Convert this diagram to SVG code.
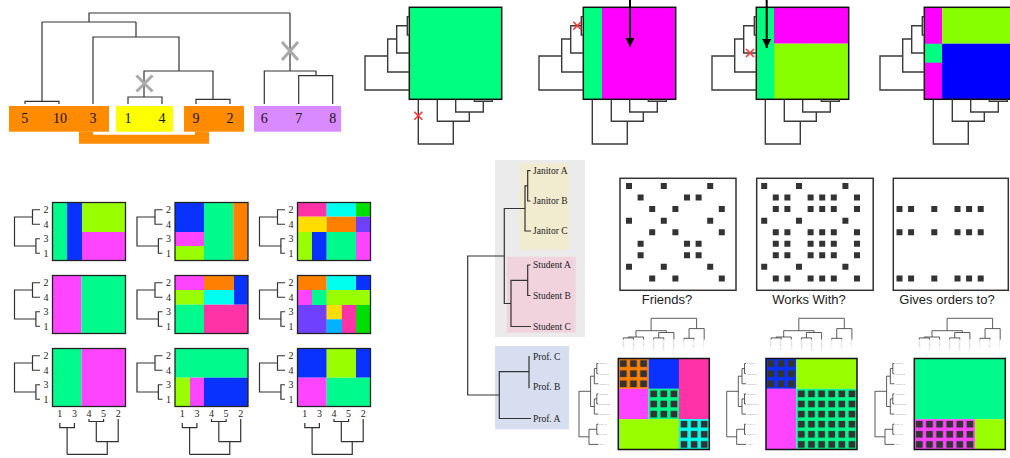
<svg xmlns="http://www.w3.org/2000/svg" width="1010" height="458" viewBox="0 0 1010 458">
<defs>
<style>
.ln{fill:none;stroke:#333;stroke-width:1.2}
.ln2{fill:none;stroke:#3a3a3a;stroke-width:1.4}
.fr{fill:none;stroke:#111;stroke-width:1.5}
.fr2{fill:none;stroke:#222;stroke-width:1.3}
.num{font-family:"Liberation Serif","Times New Roman",serif;font-size:14px;fill:#111;text-anchor:middle}
.sm{font-family:"Liberation Serif","Times New Roman",serif;font-size:10px;fill:#222;text-anchor:middle}
.nm{font-family:"Liberation Serif","Times New Roman",serif;font-size:9.5px;fill:#222}
.cap{font-family:"Liberation Sans",Arial,sans-serif;font-size:13px;fill:#222;text-anchor:middle}
.tiny{font-family:"Liberation Sans",Arial,sans-serif;font-size:2.4px;fill:#999}
.gx{fill:none;stroke:#aaa;stroke-width:3}
.rx{fill:none;stroke:#f33;stroke-width:1.6}
.ar{stroke:#000;stroke-width:2;marker-end:url(#ah)}
.dt{fill:#333}
.st{fill:none;stroke:#333;stroke-width:0.8}
.G{fill:#00ff80}.M{fill:#ff00ff}.L{fill:#88ff00}.B{fill:#0000ff}
.g{fill:#00fa8c}.b{fill:#0a32ff}.l{fill:#99ff00}.m{fill:#ff44ff}.o{fill:#ff8000}.p{fill:#ff33a6}.c{fill:#00ffee}.v{fill:#7040ff}.y{fill:#ffdd00}.lb{fill:#00b2ff}.bg{fill:#00e000}
</style>
<marker id="ah" viewBox="0 0 10 10" refX="10" refY="5" markerUnits="userSpaceOnUse" markerWidth="9" markerHeight="9" orient="auto"><path d="M0,0L10,5L0,10z" fill="#000"/></marker>
<pattern id="dots" patternUnits="userSpaceOnUse" width="10.111" height="10.111"><rect x="1.7" y="1.7" width="6.7" height="6.7" fill="#333"/></pattern>
<path id="tt" class="ln2" d="M0,16.7H-2V35H0M-2,25.8H-12.6V53H0M-12.6,39H-21.6V72H0M-21.6,56H-44.3V90H0M65,99.3V101.3H83V99.3M74,101.3V112H46.4V99.3M60,112V121.3H28V99.3M44,121.3V144H9V99.3"/>
<path id="gt" class="ln" d="M-12.5,7.25H-20V21.75H-12.5M-12.5,36.25H-16.6V50.75H-12.5M-20,14.5H-38V43.5H-16.6"/>
<path id="gb" class="ln" d="M7.3,74.5V79.2H21.9V74.5M14.6,79.2V105.8M36.5,70.5V73H51.1V70.5M43.8,73V93.2M65.7,70.5V93.2H43.8M54.75,93.2V105.8H14.6"/>
<path id="ct" class="st" d="M32.8,-27.8V-40.2H78.3V-29.9M17.7,-21.5V-27.8H48V-26M10.1,-20.6V-21.5H25.28V-19M5.06,-19V-20.6H15.17V-19M40.4,-20.6V-26H55.6V-19M35.39,-19V-20.6H45.5V-19M70.75,-20.2V-29.9H85.9V-19M65.7,-19V-20.2H75.8V-19"/>
<path id="rt" class="st" d="M-27.7,32.8H-39.3V78.3H-29.3M-24,17.7H-27.7V48H-24M-21.5,10.1H-24V25.28H-20M-20,5.06H-21.5V15.17H-20M-21.5,40.4H-24V55.6H-20M-20,35.39H-21.5V45.5H-20M-21.5,70.75H-29.3V85.9H-20M-20,65.7H-21.5V75.8H-20"/>
</defs>
<rect width="1010" height="458" fill="#fff"/>

<!-- top-left dendrogram -->
<g id="tl-groups">
<rect x="9" y="106" width="100" height="25.7" fill="#ff8c00"/>
<rect x="116" y="106" width="57" height="25.7" fill="#ffff00"/>
<rect x="184" y="106" width="60" height="25.7" fill="#ff8c00"/>
<rect x="254" y="106" width="87" height="25.7" fill="#da8aff"/>
<path d="M79,131.5H93V134.7H195V131.5H209V143.7H79Z" fill="#ff8c00"/>
</g>
<g id="tl-tree">
<path class="ln" d="M25,104V101.3H59V104M42,101.3V22M42,22H136M89,22V13H290M136,22V37M93,104V37H179V71M144,97V71H213V99.3M128,104V97H162V104M196,104V99.3H230V104M290,13V71M264.3,104V71H316V75.7M298.7,104V75.7H332.7V104"/>
<path class="gx" d="M136.5,75.5L152.5,91.5M152.5,75.5L136.5,91.5M282,42L298,60M298,42L282,60"/>
</g>
<g id="tl-labels">
<text class="num" x="24.7" y="122.5">5</text>
<text class="num" x="60" y="122.5">10</text>
<text class="num" x="93" y="122.5">3</text>
<text class="num" x="128" y="122.5">1</text>
<text class="num" x="162" y="122.5">4</text>
<text class="num" x="196" y="122.5">9</text>
<text class="num" x="230" y="122.5">2</text>
<text class="num" x="264.3" y="122.5">6</text>
<text class="num" x="298.7" y="122.5">7</text>
<text class="num" x="332.7" y="122.5">8</text>
</g>

<!-- top matrices -->
<g id="top-m1" transform="translate(409.3,0)">
<rect class="G" y="7.3" width="92.4" height="92"/>
<rect class="fr" y="7.3" width="92.4" height="92"/>
<use href="#tt"/>
<path class="rx" d="M5,111.7L13,119.7M13,111.7L5,119.7"/>
</g>
<g id="top-m2" transform="translate(583.3,0)">
<rect class="G" y="7.3" width="18.7" height="92"/>
<rect class="M" x="18.7" y="7.3" width="73.7" height="92"/>
<rect class="fr" y="7.3" width="92.4" height="92"/>
<use href="#tt"/>
<path class="rx" d="M-10,21.8L-2,29.8M-2,21.8L-10,29.8"/>
<line class="ar" x1="46.7" y1="0" x2="46.7" y2="47"/>
</g>
<g id="top-m3" transform="translate(756.3,0)">
<rect class="G" y="7.3" width="17.7" height="92"/>
<rect class="M" x="17.7" y="7.3" width="74.7" height="36.4"/>
<rect class="L" x="17.7" y="43.7" width="74.7" height="55.6"/>
<rect class="fr" y="7.3" width="92.4" height="92"/>
<use href="#tt"/>
<path class="rx" d="M-10.3,49L-2.3,57M-2.3,49L-10.3,57"/>
<line class="ar" x1="10.4" y1="0" x2="10.4" y2="48"/>
</g>
<g id="top-m4" transform="translate(924.3,0)">
<rect class="M" y="7.3" width="17.7" height="92"/>
<rect class="G" y="43.7" width="17.7" height="19"/>
<rect class="L" x="17.7" y="7.3" width="74.7" height="36.4"/>
<rect class="B" x="17.7" y="43.7" width="74.7" height="55.6"/>
<rect class="fr" y="7.3" width="92.4" height="92"/>
<use href="#tt"/>
</g>

<!-- bottom-left grid -->
<g id="grid-a1" transform="translate(52.5,202.5)">
<rect class="g" width="14.5" height="58"/><rect class="b" x="14.5" width="15" height="58"/><rect class="l" x="29.5" width="43.5" height="29.5"/><rect class="m" x="29.5" y="29.5" width="43.5" height="28.5"/>
<rect class="fr2" width="73" height="58"/><use href="#gt"/>
<text class="sm" x="-6.6" y="10.8">2</text><text class="sm" x="-6.6" y="25.3">4</text><text class="sm" x="-6.6" y="39.8">3</text><text class="sm" x="-6.6" y="54.3">1</text>
</g>
<g id="grid-b1" transform="translate(175,202.5)">
<rect class="b" width="29" height="29.5"/><rect class="m" y="29.5" width="29" height="14"/><rect class="l" y="43.5" width="29" height="14.5"/><rect class="g" x="29" width="29.3" height="58"/><rect class="o" x="58.3" width="14.7" height="58"/>
<rect class="fr2" width="73" height="58"/><use href="#gt"/>
<text class="sm" x="-6.6" y="10.8">2</text><text class="sm" x="-6.6" y="25.3">4</text><text class="sm" x="-6.6" y="39.8">3</text><text class="sm" x="-6.6" y="54.3">1</text>
</g>
<g id="grid-c1" transform="translate(297.5,202.5)">
<rect class="p" width="29.2" height="14.2"/><rect class="c" x="29.2" width="29.3" height="14.2"/><rect class="bg" x="58.5" width="14.5" height="14.2"/>
<rect class="y" y="14.2" width="29.2" height="15.3"/><rect class="o" x="29.2" y="14.2" width="29.3" height="15.3"/><rect class="v" x="58.5" y="14.2" width="14.5" height="15.3"/>
<rect class="l" y="29.5" width="14.5" height="28.5"/><rect class="b" x="14.5" y="29.5" width="14.7" height="28.5"/><rect class="g" x="29.2" y="29.5" width="29.3" height="28.5"/><rect class="m" x="58.5" y="29.5" width="14.5" height="28.5"/>
<rect class="fr2" width="73" height="58"/><use href="#gt"/>
<text class="sm" x="-6.6" y="10.8">2</text><text class="sm" x="-6.6" y="25.3">4</text><text class="sm" x="-6.6" y="39.8">3</text><text class="sm" x="-6.6" y="54.3">1</text>
</g>
<g id="grid-a2" transform="translate(52.5,275.5)">
<rect class="m" width="29" height="58"/><rect class="g" x="29" width="44" height="58"/>
<rect class="fr2" width="73" height="58"/><use href="#gt"/>
<text class="sm" x="-6.6" y="10.8">2</text><text class="sm" x="-6.6" y="25.3">4</text><text class="sm" x="-6.6" y="39.8">3</text><text class="sm" x="-6.6" y="54.3">1</text>
</g>
<g id="grid-b2" transform="translate(175,275.5)">
<rect class="m" width="29" height="14.5"/><rect class="o" x="29" width="30" height="14.5"/><rect class="b" x="59" width="14" height="29.2"/>
<rect class="l" y="14.5" width="29" height="14.7"/><rect class="c" x="29" y="14.5" width="30" height="14.7"/>
<rect class="g" y="29.2" width="29" height="28.8"/><rect class="p" x="29" y="29.2" width="44" height="28.8"/>
<rect class="fr2" width="73" height="58"/><use href="#gt"/>
<text class="sm" x="-6.6" y="10.8">2</text><text class="sm" x="-6.6" y="25.3">4</text><text class="sm" x="-6.6" y="39.8">3</text><text class="sm" x="-6.6" y="54.3">1</text>
</g>
<g id="grid-c2" transform="translate(297.5,275.5)">
<rect class="o" width="29.2" height="14.5"/><rect class="c" x="29.2" width="29.3" height="14.5"/><rect class="b" x="58.5" width="14.5" height="14.5"/>
<rect class="m" y="14.5" width="14.5" height="15"/><rect class="g" x="14.5" y="14.5" width="14.7" height="15"/><rect class="l" x="29.2" y="14.5" width="43.8" height="15"/>
<rect class="v" y="29.5" width="29.2" height="28.5"/><rect class="y" x="29.2" y="29.5" width="15.3" height="14.3"/><rect class="lb" x="29.2" y="43.8" width="15.3" height="14.2"/><rect class="p" x="44.5" y="29.5" width="14" height="28.5"/><rect class="bg" x="58.5" y="29.5" width="14.5" height="28.5"/>
<rect class="fr2" width="73" height="58"/><use href="#gt"/>
<text class="sm" x="-6.6" y="10.8">2</text><text class="sm" x="-6.6" y="25.3">4</text><text class="sm" x="-6.6" y="39.8">3</text><text class="sm" x="-6.6" y="54.3">1</text>
</g>
<g id="grid-a3" transform="translate(52.5,348.5)">
<rect class="g" width="29" height="58"/><rect class="m" x="29" width="44" height="58"/>
<rect class="fr2" width="73" height="58"/><use href="#gt"/><use href="#gb"/>
<text class="sm" x="-6.6" y="10.8">2</text><text class="sm" x="-6.6" y="25.3">4</text><text class="sm" x="-6.6" y="39.8">3</text><text class="sm" x="-6.6" y="54.3">1</text>
<text class="sm" x="7.3" y="68.5">1</text><text class="sm" x="21.9" y="68.5">3</text><text class="sm" x="36.5" y="68.5">4</text><text class="sm" x="51.1" y="68.5">5</text><text class="sm" x="65.7" y="68.5">2</text>
</g>
<g id="grid-b3" transform="translate(175,348.5)">
<rect class="g" width="73" height="29.2"/><rect class="l" y="29.2" width="15" height="28.8"/><rect class="m" x="15" y="29.2" width="14" height="28.8"/><rect class="b" x="29" y="29.2" width="44" height="28.8"/>
<rect class="fr2" width="73" height="58"/><use href="#gt"/><use href="#gb"/>
<text class="sm" x="-6.6" y="10.8">2</text><text class="sm" x="-6.6" y="25.3">4</text><text class="sm" x="-6.6" y="39.8">3</text><text class="sm" x="-6.6" y="54.3">1</text>
<text class="sm" x="7.3" y="68.5">1</text><text class="sm" x="21.9" y="68.5">3</text><text class="sm" x="36.5" y="68.5">4</text><text class="sm" x="51.1" y="68.5">5</text><text class="sm" x="65.7" y="68.5">2</text>
</g>
<g id="grid-c3" transform="translate(297.5,348.5)">
<rect class="b" width="29.2" height="29.2"/><rect class="l" x="29.2" width="29.3" height="29.2"/><rect class="b" x="58.5" width="14.5" height="29.2"/><rect class="m" y="29.2" width="29.2" height="28.8"/><rect class="g" x="29.2" y="29.2" width="43.8" height="28.8"/>
<rect class="fr2" width="73" height="58"/><use href="#gt"/><use href="#gb"/>
<text class="sm" x="-6.6" y="10.8">2</text><text class="sm" x="-6.6" y="25.3">4</text><text class="sm" x="-6.6" y="39.8">3</text><text class="sm" x="-6.6" y="54.3">1</text>
<text class="sm" x="7.3" y="68.5">1</text><text class="sm" x="21.9" y="68.5">3</text><text class="sm" x="36.5" y="68.5">4</text><text class="sm" x="51.1" y="68.5">5</text><text class="sm" x="65.7" y="68.5">2</text>
</g>

<!-- middle dendrogram -->
<g id="mid-boxes">
<rect x="495" y="160" width="90" height="177" fill="#ebebeb"/>
<rect x="520" y="163.5" width="49" height="86" fill="#f1ebd0"/>
<rect x="506.7" y="256.7" width="69" height="76" fill="#f1d3de"/>
<rect x="495" y="346" width="74" height="83.3" fill="#d6deef"/>
</g>
<g id="mid-tree">
<path class="ln" d="M530.5,170.7H527.7V201H530.5M527.7,185.9H525V231H531M525,208.5H504.3V303.5H511M530.5,265H527.7V295.5H530.5M527.7,280.3H511V326.5H531M504.3,256H467.7V395H499.3M529,356V388.3M529,371.7H499.3V418.5H531"/>
</g>
<g id="mid-labels">
<text class="nm" x="533" y="173.7">Janitor A</text>
<text class="nm" x="533" y="204">Janitor B</text>
<text class="nm" x="533" y="234">Janitor C</text>
<text class="nm" x="533" y="268">Student A</text>
<text class="nm" x="533" y="298.5">Student B</text>
<text class="nm" x="533" y="329.5">Student C</text>
<text class="nm" x="533" y="360.3">Prof. C</text>
<text class="nm" x="533" y="390.3">Prof. B</text>
<text class="nm" x="533" y="421.5">Prof. A</text>
</g>

<!-- relation matrices -->
<g id="friends">
<rect x="620" y="178.3" width="116" height="112" fill="#fff" stroke="#333" stroke-width="1.5"/>
<path class="dt" transform="translate(620,178.3)" d="M6,4.7h6v6h-6zM40.8,4.7h6v6h-6zM87.2,4.7h6v6h-6zM17.6,16.25h6v6h-6zM64,16.25h6v6h-6zM75.6,16.25h6v6h-6zM29.2,27.8h6v6h-6zM52.4,27.8h6v6h-6zM98.8,27.8h6v6h-6zM6,39.35h6v6h-6zM40.8,39.35h6v6h-6zM87.2,39.35h6v6h-6zM29.2,50.9h6v6h-6zM52.4,50.9h6v6h-6zM98.8,50.9h6v6h-6zM17.6,62.45h6v6h-6zM64,62.45h6v6h-6zM75.6,62.45h6v6h-6zM17.6,74h6v6h-6zM64,74h6v6h-6zM75.6,74h6v6h-6zM6,85.55h6v6h-6zM40.8,85.55h6v6h-6zM87.2,85.55h6v6h-6zM29.2,97.1h6v6h-6zM52.4,97.1h6v6h-6zM98.8,97.1h6v6h-6z"/>
<text class="cap" x="667" y="304">Friends?</text>
</g>
<g id="works">
<rect x="756.7" y="178.3" width="116.5" height="112" fill="#fff" stroke="#333" stroke-width="1.5"/>
<path class="dt" transform="translate(755.2,178.3)" d="M6,4.7h6v6h-6zM40.8,4.7h6v6h-6zM87.2,4.7h6v6h-6zM6,39.35h6v6h-6zM40.8,39.35h6v6h-6zM87.2,39.35h6v6h-6zM6,85.55h6v6h-6zM40.8,85.55h6v6h-6zM87.2,85.55h6v6h-6zM17.6,16.25h6v6h-6zM29.2,16.25h6v6h-6zM52.4,16.25h6v6h-6zM64,16.25h6v6h-6zM75.6,16.25h6v6h-6zM98.8,16.25h6v6h-6zM17.6,27.8h6v6h-6zM29.2,27.8h6v6h-6zM52.4,27.8h6v6h-6zM64,27.8h6v6h-6zM75.6,27.8h6v6h-6zM98.8,27.8h6v6h-6zM17.6,50.9h6v6h-6zM29.2,50.9h6v6h-6zM52.4,50.9h6v6h-6zM64,50.9h6v6h-6zM75.6,50.9h6v6h-6zM98.8,50.9h6v6h-6zM17.6,62.45h6v6h-6zM29.2,62.45h6v6h-6zM52.4,62.45h6v6h-6zM64,62.45h6v6h-6zM75.6,62.45h6v6h-6zM98.8,62.45h6v6h-6zM17.6,74h6v6h-6zM29.2,74h6v6h-6zM52.4,74h6v6h-6zM64,74h6v6h-6zM75.6,74h6v6h-6zM98.8,74h6v6h-6zM17.6,97.1h6v6h-6zM29.2,97.1h6v6h-6zM52.4,97.1h6v6h-6zM64,97.1h6v6h-6zM75.6,97.1h6v6h-6zM98.8,97.1h6v6h-6z"/>
<text class="cap" x="809" y="304">Works With?</text>
</g>
<g id="gives">
<rect x="893.3" y="178.3" width="115" height="112" fill="#fff" stroke="#333" stroke-width="1.5"/>
<path class="dt" transform="translate(890.5,178.3)" d="M6,27.8h6v6h-6zM17.6,27.8h6v6h-6zM40.8,27.8h6v6h-6zM64,27.8h6v6h-6zM75.6,27.8h6v6h-6zM87.2,27.8h6v6h-6zM6,50.9h6v6h-6zM17.6,50.9h6v6h-6zM40.8,50.9h6v6h-6zM64,50.9h6v6h-6zM75.6,50.9h6v6h-6zM87.2,50.9h6v6h-6zM6,97.1h6v6h-6zM17.6,97.1h6v6h-6zM40.8,97.1h6v6h-6zM64,97.1h6v6h-6zM75.6,97.1h6v6h-6zM87.2,97.1h6v6h-6z"/>
<text class="cap" x="947" y="304">Gives orders to?</text>
</g>

<!-- reordered matrices -->
<g id="re-friends" transform="translate(618.3,358.5)">
<rect class="o" width="30.33" height="30.33"/><rect class="b" x="30.33" width="30.34" height="30.33"/><rect class="p" x="60.67" width="30.33" height="60.67"/>
<rect class="m" y="30.33" width="30.33" height="30.34"/><rect class="g" x="30.33" y="30.33" width="30.34" height="30.34"/>
<rect class="l" y="60.67" width="60.67" height="30.33"/><rect class="c" x="60.67" y="60.67" width="30.33" height="30.33"/>
<rect fill="url(#dots)" width="30.33" height="30.33"/><rect fill="url(#dots)" x="30.33" y="30.33" width="30.34" height="30.34"/><rect fill="url(#dots)" x="60.67" y="60.67" width="30.33" height="30.33"/>
<rect class="fr" width="91" height="91"/>
<use href="#ct"/><use href="#rt"/>
<text class="tiny" x="-19" y="5.9">Janitor A</text><text class="tiny" x="-19" y="16">Janitor B</text><text class="tiny" x="-19" y="26.1">Janitor C</text><text class="tiny" x="-19" y="36.2">Student A</text><text class="tiny" x="-19" y="46.3">Student B</text><text class="tiny" x="-19" y="56.4">Student C</text><text class="tiny" x="-19" y="66.5">Prof. C</text><text class="tiny" x="-19" y="76.6">Prof. B</text><text class="tiny" x="-19" y="86.7">Prof. A</text>
<text class="tiny" transform="translate(4.3,-18.5) rotate(90)">Janitor A</text><text class="tiny" transform="translate(14.4,-18.5) rotate(90)">Janitor B</text><text class="tiny" transform="translate(24.5,-18.5) rotate(90)">Janitor C</text><text class="tiny" transform="translate(34.6,-18.5) rotate(90)">Student A</text><text class="tiny" transform="translate(44.7,-18.5) rotate(90)">Student B</text><text class="tiny" transform="translate(54.8,-18.5) rotate(90)">Student C</text><text class="tiny" transform="translate(64.9,-18.5) rotate(90)">Prof. C</text><text class="tiny" transform="translate(75,-18.5) rotate(90)">Prof. B</text><text class="tiny" transform="translate(85.1,-18.5) rotate(90)">Prof. A</text>
</g>
<g id="re-works" transform="translate(766,358.5)">
<rect class="b" width="30.33" height="30.33"/><rect class="l" x="30.33" width="60.67" height="30.33"/>
<rect class="m" y="30.33" width="30.33" height="60.67"/><rect class="g" x="30.33" y="30.33" width="60.67" height="60.67"/>
<rect fill="url(#dots)" width="30.33" height="30.33"/><rect fill="url(#dots)" x="30.33" y="30.33" width="60.67" height="60.67"/>
<rect class="fr" width="91" height="91"/>
<use href="#ct"/><use href="#rt"/>
<text class="tiny" x="-19" y="5.9">Janitor A</text><text class="tiny" x="-19" y="16">Janitor B</text><text class="tiny" x="-19" y="26.1">Janitor C</text><text class="tiny" x="-19" y="36.2">Student A</text><text class="tiny" x="-19" y="46.3">Student B</text><text class="tiny" x="-19" y="56.4">Student C</text><text class="tiny" x="-19" y="66.5">Prof. C</text><text class="tiny" x="-19" y="76.6">Prof. B</text><text class="tiny" x="-19" y="86.7">Prof. A</text>
<text class="tiny" transform="translate(4.3,-18.5) rotate(90)">Janitor A</text><text class="tiny" transform="translate(14.4,-18.5) rotate(90)">Janitor B</text><text class="tiny" transform="translate(24.5,-18.5) rotate(90)">Janitor C</text><text class="tiny" transform="translate(34.6,-18.5) rotate(90)">Student A</text><text class="tiny" transform="translate(44.7,-18.5) rotate(90)">Student B</text><text class="tiny" transform="translate(54.8,-18.5) rotate(90)">Student C</text><text class="tiny" transform="translate(64.9,-18.5) rotate(90)">Prof. C</text><text class="tiny" transform="translate(75,-18.5) rotate(90)">Prof. B</text><text class="tiny" transform="translate(85.1,-18.5) rotate(90)">Prof. A</text>
</g>
<g id="re-gives" transform="translate(914.3,358.5)">
<rect class="g" width="91" height="60.67"/><rect class="m" y="60.67" width="60.67" height="30.33"/><rect class="l" x="60.67" y="60.67" width="30.33" height="30.33"/>
<rect fill="url(#dots)" y="60.67" width="60.67" height="30.33"/>
<rect class="fr" width="91" height="91"/>
<use href="#ct"/><use href="#rt"/>
<text class="tiny" x="-19" y="5.9">Janitor A</text><text class="tiny" x="-19" y="16">Janitor B</text><text class="tiny" x="-19" y="26.1">Janitor C</text><text class="tiny" x="-19" y="36.2">Student A</text><text class="tiny" x="-19" y="46.3">Student B</text><text class="tiny" x="-19" y="56.4">Student C</text><text class="tiny" x="-19" y="66.5">Prof. C</text><text class="tiny" x="-19" y="76.6">Prof. B</text><text class="tiny" x="-19" y="86.7">Prof. A</text>
<text class="tiny" transform="translate(4.3,-18.5) rotate(90)">Janitor A</text><text class="tiny" transform="translate(14.4,-18.5) rotate(90)">Janitor B</text><text class="tiny" transform="translate(24.5,-18.5) rotate(90)">Janitor C</text><text class="tiny" transform="translate(34.6,-18.5) rotate(90)">Student A</text><text class="tiny" transform="translate(44.7,-18.5) rotate(90)">Student B</text><text class="tiny" transform="translate(54.8,-18.5) rotate(90)">Student C</text><text class="tiny" transform="translate(64.9,-18.5) rotate(90)">Prof. C</text><text class="tiny" transform="translate(75,-18.5) rotate(90)">Prof. B</text><text class="tiny" transform="translate(85.1,-18.5) rotate(90)">Prof. A</text>
</g>
</svg>
